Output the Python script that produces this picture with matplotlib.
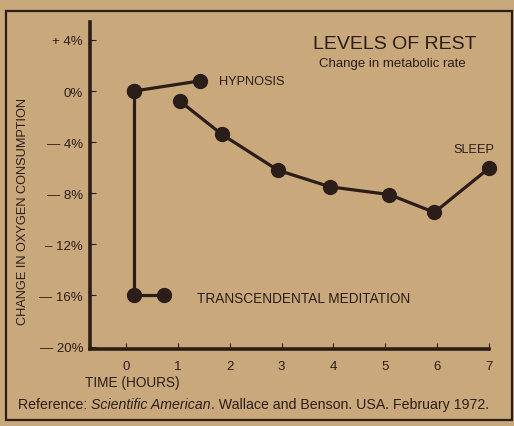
import matplotlib.pyplot as plt
from matplotlib.patches import Rectangle

plt.rcParams["font.family"] = ["Liberation Sans", "DejaVu Sans"]

INK = "#2b1e18"
PAPER = "#c9a87c"

# -- data ---------------------------------------------------------------------
hyp_x = [0.15, 1.43]
hyp_y = [0.0, 0.8]
tm_x = [0.15, 0.15, 0.73]
tm_y = [0.0, -16.0, -16.0]
sleep_x = [1.04, 1.85, 2.93, 3.94, 5.08, 5.95, 7.0]
sleep_y = [-0.8, -3.4, -6.2, -7.5, -8.1, -9.5, -6.05]

x_ticks = [0, 1, 2, 3, 4, 5, 6, 7]
y_ticks = [4, 0, -4, -8, -12, -16, -20]
y_labels = ["+ 4%", "0%", "\u2014 4%", "\u2014 8%", "\u2013 12%", "\u2014 16%", "\u2014 20%"]

ref_parts = [("Reference: ", "normal"), ("Scientific American", "italic"),
             (". Wallace and Benson. USA. February 1972.", "normal")]


def main():
    fig = plt.figure(figsize=(5.14, 4.27), dpi=100, facecolor=PAPER)
    ax = fig.add_axes([0.175, 0.180, 0.776, 0.766])
    ax.set_facecolor(PAPER)

    lw, ms = 2.3, 10
    ax.plot(tm_x, tm_y, color=INK, lw=lw, marker="o", ms=ms, markevery=[0, 2],
            solid_capstyle="round", zorder=3)
    ax.plot(tm_x[1], tm_y[1], "o", color=INK, ms=ms, zorder=3)
    ax.plot(hyp_x, hyp_y, color=INK, lw=lw, marker="o", ms=ms, zorder=3)
    ax.plot(sleep_x, sleep_y, color=INK, lw=lw, marker="o", ms=ms, zorder=3,
            clip_on=False)

    ax.set_xlim(-0.7, 7.0)
    ax.set_ylim(-20.2, 5.4)
    for side in ("top", "right"):
        ax.spines[side].set_visible(False)
    for side in ("left", "bottom"):
        ax.spines[side].set_linewidth(2.6)
        ax.spines[side].set_color(INK)

    ax.set_xticks(x_ticks)
    ax.set_yticks(y_ticks)
    ax.set_yticklabels(y_labels)
    ax.tick_params(axis="both", direction="in", length=4, width=0.8,
                   color=INK, labelcolor=INK, labelsize=9.5)
    ax.tick_params(axis="y", pad=5)
    ax.tick_params(axis="x", pad=8)

    txt = dict(color=INK, fontsize=9.2)
    ax.text(1.8, 0.75, "HYPNOSIS", va="center", ha="left", **txt)
    ax.text(6.32, -4.5, "SLEEP", va="center", ha="left", **txt)
    ax.text(1.37, -16.2, "TRANSCENDENTAL MEDITATION", va="center", ha="left",
            color=INK, fontsize=9.8)

    fig.text(0.768, 0.896, "LEVELS OF REST", ha="center", va="center",
             fontsize=14, color=INK, fontweight="light")
    fig.text(0.763, 0.849, "Change in metabolic rate", ha="center", va="center",
             fontsize=9.5, color=INK)
    fig.text(0.045, 0.505, "CHANGE IN OXYGEN CONSUMPTION", rotation=90,
             ha="center", va="center", fontsize=9.2, color=INK)
    fig.text(0.258, 0.103, "TIME (HOURS)", ha="center", va="center",
             fontsize=9.8, color=INK)

    # reference line, pieces set one after another
    fig.canvas.draw()
    r = fig.canvas.get_renderer()
    x = 18
    for s, st in ref_parts:
        t = fig.text(x / 514, 0.052, s, ha="left", va="center",
                     fontsize=10.2, color=INK, style=st)
        x += t.get_window_extent(r).width

    # outer frame
    fig.patches.append(Rectangle((0.012, 0.015), 0.985, 0.958, transform=fig.transFigure,
                                 fill=False, edgecolor=INK, lw=1.6))

    fig.savefig("out.png", dpi=100, facecolor=PAPER)
    plt.close(fig)


if __name__ == "__main__":
    main()
